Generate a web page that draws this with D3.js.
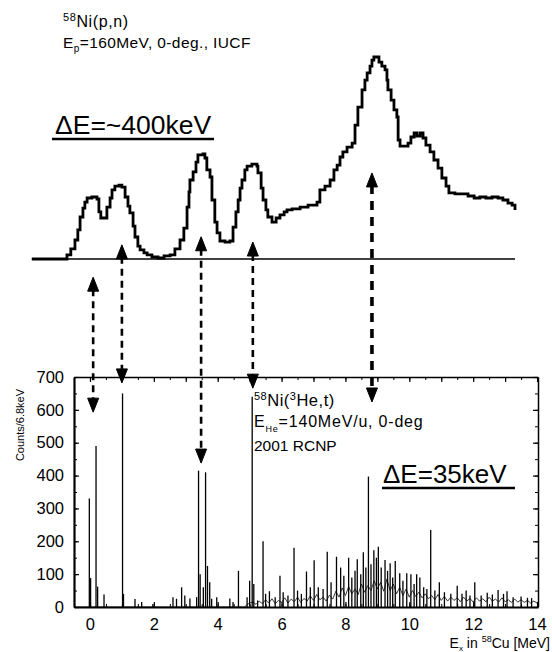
<!DOCTYPE html>
<html>
<head>
<meta charset="utf-8">
<script src="https://cdn.jsdelivr.net/npm/d3@7"></script>
<style>
  body { margin: 0; background: #fff; }
  svg { display: block; }
  text { font-family: "Liberation Sans", Arial, sans-serif; fill: #000; }
</style>
</head>
<body>
<svg id="chart" width="552" height="652"></svg>
<script>
// upper spectrum, 58Ni(p,n) at IUCF: [Ex in MeV, counts in arbitrary units]
var pnSpectrum = [
  [-1.82,0],[-0.85,0],[-0.72,2],[-0.60,5],[-0.47,9.4],[-0.38,14.4],[-0.31,20.8],[-0.22,25.2],[-0.16,28.2],[-0.09,30.2],
  [0.06,30.7],[0.22,29.7],[0.28,23.3],[0.34,20.3],[0.47,20.3],[0.53,25.7],[0.63,30.2],[0.69,34.2],[0.78,36.1],[0.91,36.6],
  [1.00,35.6],[1.10,30.7],[1.19,26.2],[1.25,22.8],[1.35,16.3],[1.41,10.9],[1.50,6.4],[1.57,4.5],[1.69,3.0],[1.79,2.0],
  [1.94,1.0],[2.13,0.5],[2.32,1.5],[2.51,2.0],[2.66,5.0],[2.82,9.4],[2.94,15.3],[3.04,25.7],[3.10,33.2],[3.13,39.1],
  [3.23,43.1],[3.32,48.0],[3.38,51.5],[3.54,52.0],[3.60,50.0],[3.66,44.1],[3.76,40.6],[3.82,29.2],[3.91,18.3],[3.98,12.9],
  [4.07,8.9],[4.23,8.4],[4.38,8.9],[4.48,15.8],[4.57,23.3],[4.64,29.2],[4.70,35.1],[4.76,39.1],[4.85,44.1],[4.92,46.0],
  [5.07,47.0],[5.23,46.0],[5.26,42.6],[5.36,35.1],[5.42,29.2],[5.51,24.3],[5.57,20.8],[5.70,18.3],[5.83,20.3],[5.95,21.8],
  [6.08,23.3],[6.17,24.3],[6.33,24.8],[6.58,25.7],[6.83,26.7],[7.11,28.2],[7.20,34.2],[7.36,36.1],[7.52,39.1],[7.64,44.1],
  [7.74,46.5],[7.83,50.5],[7.92,53.0],[8.05,55.4],[8.21,57.4],[8.30,66.3],[8.39,75.2],[8.52,83.7],[8.61,88.6],[8.68,92.1],
  [8.77,95.5],[8.83,98.5],[8.89,100],[8.99,100],[9.05,97.5],[9.14,95.5],[9.24,93.6],[9.30,88.6],[9.33,83.7],[9.43,78.7],
  [9.52,73.8],[9.61,70.3],[9.65,58.9],[9.71,55.9],[9.87,55.9],[9.96,57.4],[10.05,60.4],[10.15,62.4],[10.24,60.9],[10.34,62.4],
  [10.43,59.9],[10.52,56.4],[10.65,53.0],[10.77,49.0],[10.90,45.0],[11.02,40.1],[11.15,36.1],[11.24,32.7],[11.43,32.2],[11.65,32.2],
  [11.84,31.2],[12.03,30.2],[12.21,30.7],[12.40,30.2],[12.59,30.7],[12.78,30.2],[12.93,29.2],[13.09,27.7],[13.22,26.7],[13.31,24.3]
];

// lower spectrum, 58Ni(3He,t) at RCNP: sharp lines [Ex in MeV, counts/6.8keV]
var heLines = [
  [-0.02,330],[0.02,88],[0.19,490],[0.24,62],[0.44,38],
  [1.02,650],[1.05,40],[1.41,24],[1.62,15],[1.97,9],
  [2.60,30],[2.71,25],[2.87,60],[2.97,35],[3.13,26],[3.34,30],[3.40,415],[3.45,100],[3.55,60],[3.62,410],[3.68,125],[3.75,75],[3.81,25],[3.97,30],
  [4.38,26],[4.48,15],[4.65,110],
  [4.92,30],[5.00,80],[5.08,640],[5.13,70],[5.25,20],[5.42,200],[5.50,40],[5.62,48],[5.80,30],[5.95,95],
  [6.05,45],[6.20,35],[6.39,180],[6.50,50],[6.62,40],[6.78,108],[6.90,60],[7.02,142],[7.15,60],[7.30,55],
  [7.43,168],[7.55,75],[7.72,153],[7.85,120],[7.95,95],[8.10,150],[8.20,90],[8.30,110],[8.37,145],[8.48,100],
  [8.56,167],[8.64,120],[8.72,397],[8.80,130],[8.89,173],[8.97,150],[9.03,183],[9.12,120],[9.24,143],[9.32,110],
  [9.40,133],[9.48,90],[9.56,140],[9.70,103],[9.80,80],[9.92,103],[10.05,100],[10.15,70],[10.23,100],[10.33,90],
  [10.45,60],[10.55,55],[10.67,234],[10.80,50],[10.94,75],[11.10,45],[11.30,40],[11.50,65],[11.65,40],[11.78,50],
  [11.90,35],[12.05,75],[12.25,35],[12.44,43],[12.60,38],[12.78,52],[12.95,40],[13.06,48],[13.25,30],[13.50,32],
  [13.70,28],[13.83,27]
];

// lower spectrum, continuum under the lines [Ex in MeV, counts/6.8keV]
var heFloor = [
  [-0.5,0],[4.85,0],[4.9,6],[5.0,12],[5.1,15],[5.2,8],[5.3,18],[5.4,10],[5.5,22],[5.6,12],[5.7,25],[5.8,10],[5.9,20],
  [6.0,14],[6.1,28],[6.2,12],[6.3,24],[6.4,16],[6.5,30],[6.6,14],[6.7,26],[6.8,18],[6.9,34],[7.0,20],[7.1,38],[7.2,22],
  [7.3,30],[7.4,18],[7.5,36],[7.6,24],[7.7,48],[7.8,30],[7.9,58],[8.0,35],[8.1,62],[8.2,40],[8.3,55],[8.4,38],[8.5,70],
  [8.6,45],[8.7,65],[8.8,50],[8.9,80],[9.0,55],[9.1,75],[9.2,48],[9.3,85],[9.4,50],[9.5,70],[9.6,40],[9.7,60],[9.8,35],
  [9.9,55],[10.0,30],[10.1,50],[10.2,32],[10.3,45],[10.4,28],[10.5,40],[10.6,25],[10.7,35],[10.8,22],[10.9,38],[11.0,20],
  [11.1,32],[11.2,18],[11.3,30],[11.4,20],[11.5,28],[11.6,16],[11.7,30],[11.8,18],[11.9,26],[12.0,15],[12.1,28],[12.2,18],
  [12.3,25],[12.4,16],[12.5,30],[12.6,18],[12.7,24],[12.8,15],[12.9,28],[13.0,16],[13.1,22],[13.2,14],[13.3,24],[13.4,15],
  [13.5,22],[13.6,14],[13.7,20],[13.8,12],[13.9,18],[14.0,12]
];

// correspondence arrows: energy, tip on upper spectrum (arb. units), tip on lower spectrum (counts)
var arrowE = [0.1, 1.0, 3.48, 5.1, 8.83];
var arrowUpper = [-9, 7, 11, 8.4, 42.6];
var arrowLower = [593, 682, 438, 666, 624];

var xTicks = [0, 2, 4, 6, 8, 10, 12, 14];
var yTicks = [0, 100, 200, 300, 400, 500, 600, 700];

var svg = d3.select("#chart");

var x = d3.scaleLinear().domain([-0.5, 14.03]).range([74, 538]);
var y = d3.scaleLinear().domain([0, 700]).range([607, 377]);
var yTop = d3.scaleLinear().domain([0, 100]).range([259, 57]);

// ---------- upper spectrum ----------
svg.append("line")
  .attr("x1", x(pnSpectrum[0][0])).attr("x2", x(pnSpectrum[pnSpectrum.length - 1][0]))
  .attr("y1", yTop(0)).attr("y2", yTop(0))
  .attr("stroke", "#000").attr("stroke-width", 1.4);

var topLine = d3.line()
  .x(function(d) { return x(d[0]); })
  .y(function(d) { return yTop(d[1]); })
  .curve(d3.curveStepAfter);

svg.append("path")
  .datum(pnSpectrum)
  .attr("d", topLine)
  .attr("fill", "none")
  .attr("stroke", "#000")
  .attr("stroke-width", 2.8);

// ---------- lower spectrum ----------
var floorLine = d3.line()
  .x(function(d) { return x(d[0]); })
  .y(function(d) { return y(d[1]); });

svg.append("path")
  .datum(heFloor)
  .attr("d", floorLine)
  .attr("fill", "none")
  .attr("stroke", "#222")
  .attr("stroke-width", 0.9);

svg.append("g").selectAll("line")
  .data(heLines)
  .enter()
  .append("line")
  .attr("x1", function(d) { return x(d[0]); })
  .attr("x2", function(d) { return x(d[0]); })
  .attr("y1", y(0))
  .attr("y2", function(d) { return y(d[1]); })
  .attr("stroke", "#000")
  .attr("stroke-width", 1.3);

// frame with inward ticks
function styleAxis(g, w) {
  g.selectAll("path.domain").attr("stroke", "#000").attr("stroke-width", w);
  g.selectAll(".tick line").attr("stroke", "#000").attr("stroke-width", 1.2);
  g.selectAll("text").attr("font-size", 16.5).attr("font-family", "Liberation Sans, Arial, sans-serif").attr("fill", "#000");
}

var xMinor = d3.range(0, 14.01, 0.5);
var yMinor = d3.range(0, 701, 50);

svg.append("g").attr("transform", "translate(0,607)")
  .call(d3.axisBottom(x).tickValues(xMinor).tickSize(-3).tickFormat(""))
  .call(function(g) { g.select(".domain").remove(); g.selectAll(".tick line").attr("stroke", "#000"); });
svg.append("g").attr("transform", "translate(0,377)")
  .call(d3.axisTop(x).tickValues(xMinor).tickSize(-3).tickFormat(""))
  .call(function(g) { g.select(".domain").remove(); g.selectAll(".tick line").attr("stroke", "#000"); });
svg.append("g").attr("transform", "translate(74,0)")
  .call(d3.axisLeft(y).tickValues(yMinor).tickSize(-3).tickFormat(""))
  .call(function(g) { g.select(".domain").remove(); g.selectAll(".tick line").attr("stroke", "#000"); });
svg.append("g").attr("transform", "translate(538,0)")
  .call(d3.axisRight(y).tickValues(yMinor).tickSize(-3).tickFormat(""))
  .call(function(g) { g.select(".domain").remove(); g.selectAll(".tick line").attr("stroke", "#000"); });

svg.append("g").attr("transform", "translate(0,377)")
  .call(d3.axisTop(x).tickValues(d3.range(0, 14.01, 1)).tickSize(-5).tickSizeOuter(0).tickFormat(""))
  .call(function(g) { styleAxis(g, 1.5); });
svg.append("g").attr("transform", "translate(538,0)")
  .call(d3.axisRight(y).tickValues(yTicks).tickSize(-5).tickSizeOuter(0).tickFormat(""))
  .call(function(g) { styleAxis(g, 1.5); });
svg.append("g").attr("transform", "translate(0,607)")
  .call(d3.axisBottom(x).tickValues(xTicks).tickSize(-5).tickSizeOuter(0).tickPadding(11))
  .call(function(g) { styleAxis(g, 2.2); });
svg.append("g").attr("transform", "translate(74,0)")
  .call(d3.axisLeft(y).tickValues(yTicks).tickSize(-5).tickSizeOuter(0).tickPadding(10))
  .call(function(g) { styleAxis(g, 2.2); });

// axis titles
svg.append("text")
  .attr("transform", "translate(24,425) rotate(-90)")
  .attr("text-anchor", "middle")
  .attr("font-size", 11)
  .text("Counts/6.8keV");

var xt = svg.append("text").attr("x", 550).attr("y", 648).attr("text-anchor", "end").attr("font-size", 14);
xt.append("tspan").text("E");
xt.append("tspan").attr("font-size", 8).attr("dy", 3).text("x");
xt.append("tspan").attr("dy", -3).text(" in ");
xt.append("tspan").attr("font-size", 9).attr("dy", -6).text("58");
xt.append("tspan").attr("dy", 6).text("Cu [MeV]");

// ---------- arrows ----------
function head(px, py, dir) {
  var b = py - dir * 14;
  svg.append("path")
    .attr("d", "M" + px + "," + py + "L" + (px - 5.5) + "," + b + "L" + (px + 5.5) + "," + b + "Z")
    .attr("fill", "#000").attr("stroke", "#000").attr("stroke-width", 1);
}

arrowE.forEach(function(e, i) {
  var px = x(e);
  var y1 = yTop(arrowUpper[i]);
  var y2 = y(arrowLower[i]);
  var wide = i === 4;
  svg.append("line")
    .attr("x1", px).attr("x2", px)
    .attr("y1", y1 + 12).attr("y2", y2 - 12)
    .attr("stroke", "#000")
    .attr("stroke-width", wide ? 3.6 : 2.6)
    .attr("stroke-dasharray", wide ? "9,7" : "7,5");
  head(px, y1, -1);
  head(px, y2, 1);
});

// ---------- labels ----------
var t1 = svg.append("text").attr("x", 63).attr("y", 27).attr("font-size", 16).attr("letter-spacing", 0.6);
t1.append("tspan").attr("font-size", 11).attr("dy", -6).text("58");
t1.append("tspan").attr("dy", 6).text("Ni(p,n)");

var t2 = svg.append("text").attr("x", 63).attr("y", 48).attr("font-size", 15.5).attr("letter-spacing", 0.4);
t2.append("tspan").text("E");
t2.append("tspan").attr("font-size", 10).attr("dy", 4).text("p");
t2.append("tspan").attr("dy", -4).text("=160MeV, 0-deg., IUCF");

svg.append("text").attr("x", 55).attr("y", 134).attr("font-size", 26.5).text("\u0394E=~400keV");
svg.append("line").attr("x1", 52).attr("x2", 214).attr("y1", 139).attr("y2", 139)
  .attr("stroke", "#000").attr("stroke-width", 2.5);

var b1 = svg.append("text").attr("x", 254).attr("y", 406).attr("font-size", 16.5).attr("letter-spacing", 0.5);
b1.append("tspan").attr("font-size", 11).attr("dy", -6).text("58");
b1.append("tspan").attr("dy", 6).text("Ni(");
b1.append("tspan").attr("font-size", 11).attr("dy", -6).text("3");
b1.append("tspan").attr("dy", 6).text("He,t)");

var b2 = svg.append("text").attr("x", 254).attr("y", 427).attr("font-size", 16).attr("letter-spacing", 0.8);
b2.append("tspan").text("E");
b2.append("tspan").attr("font-size", 9).attr("dy", 5).text("He");
b2.append("tspan").attr("dy", -5).text("=140MeV/u, 0-deg");

svg.append("text").attr("x", 254).attr("y", 451).attr("font-size", 15.5).text("2001 RCNP");

svg.append("text").attr("x", 383).attr("y", 483).attr("font-size", 26).text("\u0394E=35keV");
svg.append("line").attr("x1", 382).attr("x2", 515).attr("y1", 488).attr("y2", 488)
  .attr("stroke", "#000").attr("stroke-width", 2.5);
</script>
</body>
</html>
